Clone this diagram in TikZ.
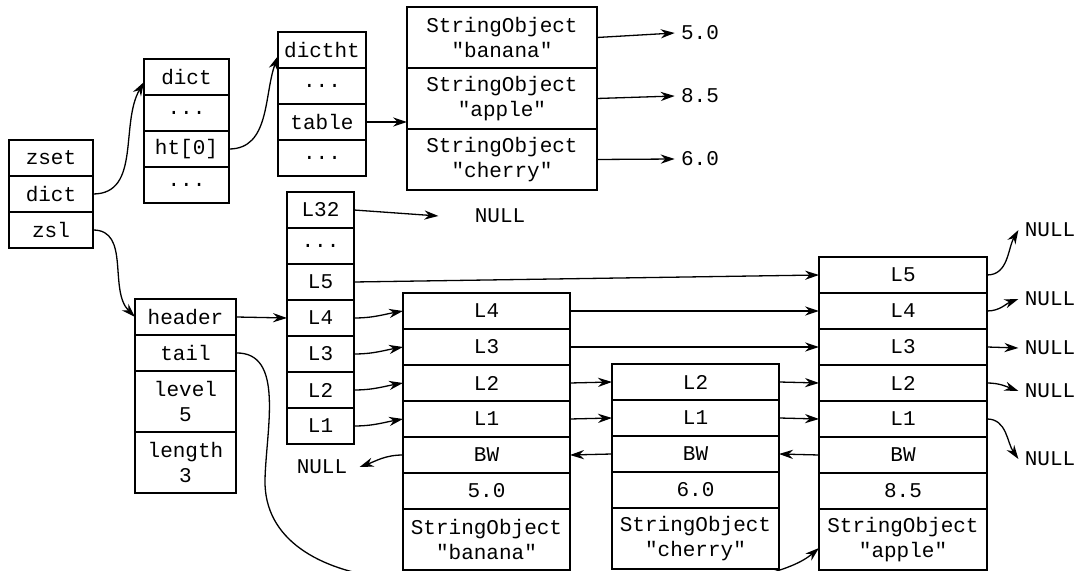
\documentclass[tikz,border=0pt]{standalone}
\usepackage{fontspec}
\setmonofont{Liberation Mono}
\usetikzlibrary{arrows.meta,positioning}
\tikzset{cell/.style={draw,line width=1pt,minimum height=18pt,inner sep=0pt,outer sep=0pt,
 align=center,font=\ttfamily\fontsize{10.5}{12.5}\selectfont},tall/.style={minimum height=30.5pt},
 lbl/.style={inner sep=3pt,font=\ttfamily\fontsize{10.5}{12.5}\selectfont},
 arr/.style={-{Stealth[length=7pt,width=4.6pt]},line width=0.65pt}}
\begin{document}
\begin{tikzpicture}[x=0.5pt,y=-0.5pt,node distance=0pt,
 zcol/.style={cell,minimum width=42pt},dcol/.style={cell,minimum width=42.5pt},
 tcol/.style={cell,minimum width=44pt},scol/.style={cell,tall,minimum width=95pt},
 hcol/.style={cell,minimum width=33.5pt},lcol/.style={cell,minimum width=50.5pt},
 ncol/.style={cell,minimum width=83.5pt}]
\useasboundingbox (0,0) rectangle (1087,571);
\clip (0,0) rectangle (1087,571);
% zset
\node[zcol,anchor=north west] (zset) at (9,140) {zset};
\node[zcol,below=of zset] (zdict) {dict};
\node[zcol,below=of zdict] (zzsl) {zsl};
% dict
\node[dcol,anchor=north west] (dHead) at (144,59) {dict};
\node[dcol,below=of dHead] (dDots1) {...};
\node[dcol,below=of dDots1] (dHt) {ht[0]};
\node[dcol,below=of dHt] (dDots2) {...};
% dictht
\node[tcol,anchor=north west] (tHead) at (278,32) {dictht};
\node[tcol,below=of tHead] (tDots1) {...};
\node[tcol,below=of tDots1] (tTable) {table};
\node[tcol,below=of tTable] (tDots2) {...};
% table entries
\node[scol,anchor=north west] (sBanana) at (407,7) {StringObject\\"banana"};
\node[scol,below=of sBanana] (sApple) {StringObject\\"apple"};
\node[scol,below=of sApple] (sCherry) {StringObject\\"cherry"};
\node[lbl] (vBanana) at (700,33) {5.0};
\node[lbl] (vApple) at (700,96) {8.5};
\node[lbl] (vCherry) at (700,159) {6.0};
% zskiplist
\node[lcol,anchor=north west] (lHeader) at (135,299) {header};
\node[lcol,below=of lHeader] (lTail) {tail};
\node[lcol,tall,below=of lTail] (lLevel) {level\\5};
\node[lcol,tall,below=of lLevel] (lLength) {length\\3};
% header levels
\node[hcol,anchor=north west] (hL32) at (287,192) {L32};
\node[hcol,below=of hL32] (hDots) {...};
\node[hcol,below=of hDots] (hL5) {L5};
\node[hcol,below=of hL5] (hL4) {L4};
\node[hcol,below=of hL4] (hL3) {L3};
\node[hcol,below=of hL3] (hL2) {L2};
\node[hcol,below=of hL2] (hL1) {L1};
% banana
\node[ncol,anchor=north west] (bL4) at (403,293) {L4};
\node[ncol,below=of bL4] (bL3) {L3};
\node[ncol,below=of bL3] (bL2) {L2};
\node[ncol,below=of bL2] (bL1) {L1};
\node[ncol,below=of bL1] (bBW) {BW};
\node[ncol,below=of bBW] (bScore) {5.0};
\node[ncol,tall,below=of bScore] (bObj) {StringObject\\"banana"};
% cherry
\node[ncol,anchor=north west] (cL2) at (612,364) {L2};
\node[ncol,below=of cL2] (cL1) {L1};
\node[ncol,below=of cL1] (cBW) {BW};
\node[ncol,below=of cBW] (cScore) {6.0};
\node[ncol,tall,below=of cScore] (cObj) {StringObject\\"cherry"};
% apple
\node[ncol,minimum width=84pt,anchor=north west] (aL5) at (819,257) {L5};
\node[ncol,minimum width=84pt,below=of aL5] (aL4) {L4};
\node[ncol,minimum width=84pt,below=of aL4] (aL3) {L3};
\node[ncol,minimum width=84pt,below=of aL3] (aL2) {L2};
\node[ncol,minimum width=84pt,below=of aL2] (aL1) {L1};
\node[ncol,minimum width=84pt,below=of aL1] (aBW) {BW};
\node[ncol,minimum width=84pt,below=of aBW] (aScore) {8.5};
\node[ncol,minimum width=84pt,tall,below=of aScore] (aObj) {StringObject\\"apple"};
% NULLs
\node[lbl] (nullTop) at (500,216) {NULL};
\node[lbl] (nullBW) at (322,467) {NULL};
\node[lbl] (nullA5) at (1050,230) {NULL};
\node[lbl] (nullA4) at (1050,299) {NULL};
\node[lbl] (nullA3) at (1050,348) {NULL};
\node[lbl] (nullA2) at (1050,391) {NULL};
\node[lbl] (nullA1) at (1050,459) {NULL};
% dict side
\draw[arr] (zdict.east) to[out=0,in=240] ([yshift=-2.5pt]dHead.west);
\draw[arr] (dHt.east) to[out=0,in=250] ([yshift=-3pt]tHead.west);
\draw[arr] (tTable.east) -- (tTable.east -| sApple.west);
\draw[arr] (sBanana.east) -- (vBanana.west);
\draw[arr] (sApple.east) -- (vApple.west);
\draw[arr] (sCherry.east) -- (vCherry.west);
% skiplist side
\draw[arr] (zzsl.east) to[out=0,in=135] (lHeader.west);
\draw[arr] (lHeader.east) -- (hL4.west);
\draw[arr] (hL32.east) -- ([xshift=-15pt]nullTop.west);
\draw[arr] (hL5.east) -- (aL5.west);
\draw[arr] (hL4.east) to[out=0,in=190] (bL4.west);
\draw[arr] (hL3.east) to[out=0,in=190] (bL3.west);
\draw[arr] (hL2.east) to[out=0,in=190] (bL2.west);
\draw[arr] (hL1.east) to[out=0,in=190] (bL1.west);
\draw[arr] (bL4.east) -- (aL4.west);
\draw[arr] (bL3.east) -- (aL3.west);
\draw[arr] (bL2.east) -- (cL2.west);
\draw[arr] (bL1.east) -- (cL1.west);
\draw[arr] (cL2.east) -- (aL2.west);
\draw[arr] (cL1.east) -- (aL1.west);
\draw[arr] (aBW.west) -- (cBW.east);
\draw[arr] (cBW.west) -- (bBW.east);
\draw[arr] (bBW.west) to[out=180,in=20] ([xshift=3pt]nullBW.east);
\draw[arr] (aL5.east) to[out=0,in=240] (nullA5.west);
\draw[arr] (aL4.east) to[out=0,in=200] (nullA4.west);
\draw[arr] (aL3.east) -- (nullA3.west);
\draw[arr] (aL2.east) to[out=0,in=160] (nullA2.west);
\draw[arr] (aL1.east) to[out=0,in=125] (nullA1.west);
\draw[arr] (lTail.east) .. controls (285,352) and (266,430) .. (265,480)
 .. controls (264,540) and (320,570) .. (385,578)
 .. controls (600,600) and (770,590) .. ([yshift=11pt]aObj.south west);
\end{tikzpicture}
\end{document}
